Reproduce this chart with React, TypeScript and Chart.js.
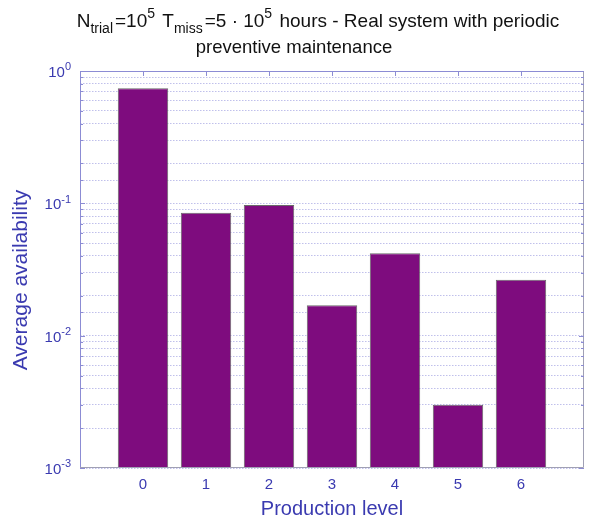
import React, { useEffect, useRef } from "react";
import { Chart, registerables } from "chart.js";

Chart.register(...registerables);

const categories = [0, 1, 2, 3, 4, 5, 6];
const availability = [0.74, 0.085, 0.097, 0.017, 0.042, 0.003, 0.0265];
const yTickExponents = [0, -1, -2, -3];
const titleLine2 = "preventive maintenance";
const xTitle = "Production level";
const yTitle = "Average availability";

type Seg = { t: string; k: "n" | "sub" | "sup" };
const titleLine1: Seg[] = [
  { t: "N", k: "n" },
  { t: "trial", k: "sub" },
  { t: "=10", k: "n" },
  { t: "5", k: "sup" },
  { t: " T", k: "n" },
  { t: "miss", k: "sub" },
  { t: "=5 · 10", k: "n" },
  { t: "5", k: "sup" },
  { t: " hours - Real system with periodic", k: "n" },
];

const FONT = "'Liberation Sans', Arial, sans-serif";
const BLUE = "#3a3ab0";

function drawRich(ctx: CanvasRenderingContext2D, segs: Seg[], x: number, y: number, size: number, small: number, color: string, align: "left" | "center" | "right", gap = 0) {
  const fontN = `${size}px ${FONT}`;
  const fontS = `${small}px ${FONT}`;
  let total = 0;
  for (const s of segs) {
    ctx.font = s.k === "n" ? fontN : fontS;
    total += ctx.measureText(s.t).width + (s.k === "n" ? 0 : gap);
  }
  let cx = align === "left" ? x : align === "center" ? x - total / 2 : x - total;
  ctx.fillStyle = color;
  ctx.textAlign = "left";
  ctx.textBaseline = "alphabetic";
  for (const s of segs) {
    ctx.font = s.k === "n" ? fontN : fontS;
    const dy = s.k === "sub" ? size * 0.3 : s.k === "sup" ? -size * 0.45 : 0;
    ctx.fillText(s.t, cx, y + dy);
    cx += ctx.measureText(s.t).width + (s.k === "n" ? 0 : gap);
  }
}

const decorPlugin = {
  id: "decor",
  afterDraw(chart: any) {
    const ctx = chart.ctx as CanvasRenderingContext2D;
    const a = chart.chartArea;
    const ys = chart.scales.y;
    const xs = chart.scales.x;
    ctx.save();
    // frame
    ctx.lineWidth = 1;
    ctx.strokeStyle = "#8c8cd4";
    ctx.beginPath();
    ctx.moveTo(a.left + 0.5, a.bottom);
    ctx.lineTo(a.left + 0.5, a.top + 0.5);
    ctx.lineTo(a.right, a.top + 0.5);
    ctx.stroke();
    ctx.strokeStyle = "#a0a0b4";
    ctx.beginPath();
    ctx.moveTo(a.right - 0.5, a.top);
    ctx.lineTo(a.right - 0.5, a.bottom - 0.5);
    ctx.lineTo(a.left, a.bottom - 0.5);
    ctx.stroke();
    // inward ticks on left/right for each y tick
    ctx.strokeStyle = "#8c8cd4";
    for (const t of ys.ticks) {
      const py = Math.round(ys.getPixelForValue(t.value)) + 0.5;
      const major = Math.abs(Math.log10(t.value) - Math.round(Math.log10(t.value))) < 1e-6;
      const len = major ? 5 : 3;
      ctx.beginPath();
      ctx.moveTo(a.left, py);
      ctx.lineTo(a.left + len, py);
      ctx.moveTo(a.right, py);
      ctx.lineTo(a.right - len, py);
      ctx.stroke();
    }
    // top ticks at categories
    for (const c of categories) {
      const px = Math.round(xs.getPixelForValue(c)) + 0.5;
      ctx.beginPath();
      ctx.moveTo(px, a.top);
      ctx.lineTo(px, a.top + 5);
      ctx.stroke();
    }
    // y tick labels
    for (const e of yTickExponents) {
      const py = ys.getPixelForValue(Math.pow(10, e));
      const sup = e === 0 ? "0" : "-" + Math.abs(e);
      drawRich(ctx, [{ t: "10", k: "n" }, { t: sup, k: "sup" }], a.left - 9, py + 6, 15, 11, BLUE, "right");
    }
    // title
    drawRich(ctx, titleLine1, 318, 27, 19, 14, "#111", "center", 2);
    ctx.font = `18.5px ${FONT}`;
    ctx.fillStyle = "#111";
    ctx.textAlign = "center";
    ctx.textBaseline = "alphabetic";
    ctx.fillText(titleLine2, 294, 53);
    // axis titles
    ctx.font = `20px ${FONT}`;
    ctx.fillStyle = BLUE;
    ctx.textAlign = "center";
    ctx.textBaseline = "middle";
    ctx.fillText(xTitle, (a.left + a.right) / 2, 509);
    ctx.save();
    ctx.font = `21px ${FONT}`;
    ctx.translate(21, 280);
    ctx.rotate(-Math.PI / 2);
    ctx.fillText(yTitle, 0, 0);
    ctx.restore();
    ctx.restore();
  },
};

export default function App() {
  const ref = useRef<HTMLCanvasElement>(null);
  useEffect(() => {
    document.body.style.margin = "0";
    const canvas = ref.current!;
    const chart = new Chart(canvas, {
      type: "bar",
      data: {
        datasets: [
          {
            data: categories.map((c, i) => ({ x: c, y: availability[i] })),
            backgroundColor: "#7e0c7e",
            borderColor: "#6a6a6a",
            borderWidth: 1,
            barPercentage: 0.8,
            categoryPercentage: 1,
          },
        ],
      },
      options: {
        responsive: false,
        animation: false,
        layout: { padding: { top: 71, right: 9, left: 0, bottom: 0 } },
        plugins: { legend: { display: false }, tooltip: { enabled: false }, title: { display: false } },
        scales: {
          x: {
            type: "linear",
            min: -1,
            max: 7,
            offset: false,
            afterBuildTicks: (s: any) => {
              s.ticks = categories.map((v) => ({ value: v }));
            },
            afterFit: (s: any) => {
              s.height = 53;
            },
            grid: { display: false, drawTicks: false, offset: false },
            border: { display: false },
            ticks: {
              color: BLUE,
              font: { family: FONT, size: 15 },
              padding: 8,
              autoSkip: false,
              maxRotation: 0,
              callback: (v: any) => String(v),
            },
          },
          y: {
            type: "logarithmic",
            min: 0.001,
            max: 1,
            afterFit: (s: any) => {
              s.width = 80;
            },
            grid: {
              display: true,
              drawTicks: false,
              color: "rgba(130,130,215,0.5)",
              lineWidth: 1,
            },
            border: { display: false, dash: [1.5, 1.5] },
            ticks: { display: false },
          },
        },
      } as any,
      plugins: [decorPlugin],
    });
    return () => chart.destroy();
  }, []);
  return <canvas ref={ref} width={593} height={521} style={{ display: "block" }} />;
}
